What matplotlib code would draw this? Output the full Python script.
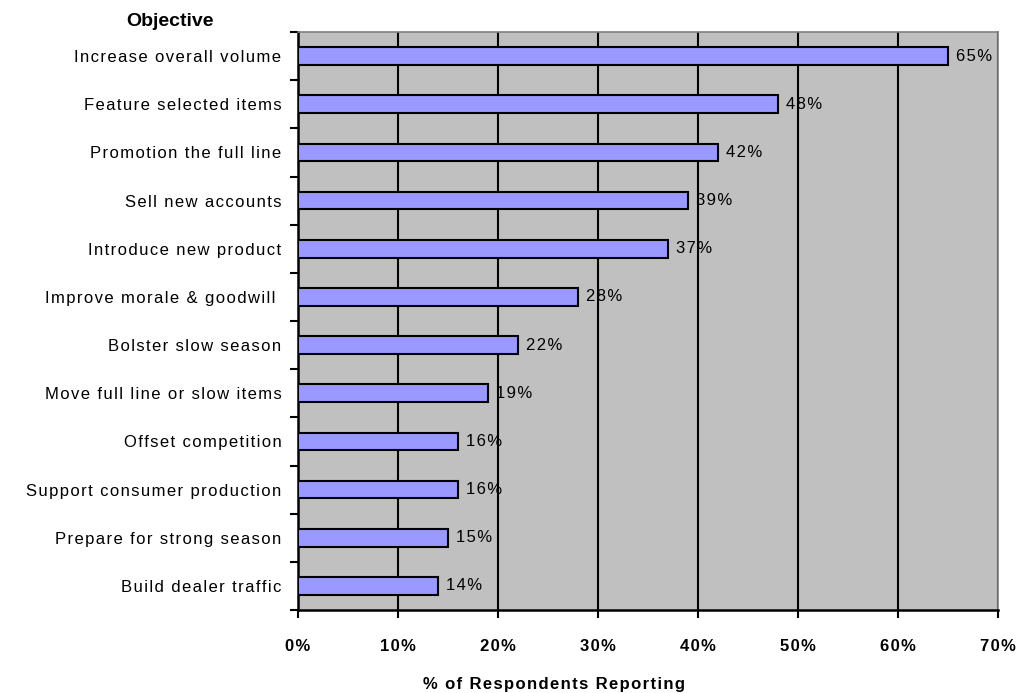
import numpy as np
import matplotlib
matplotlib.use("Agg")
from matplotlib import pyplot as plt
from matplotlib.ticker import FixedLocator

plt.rcParams['font.family'] = ['Liberation Sans', 'DejaVu Sans']

objectives = ['Increase overall volume', 'Feature selected items', 'Promotion the full line',
              'Sell new accounts', 'Introduce new product', 'Improve morale & goodwill ',
              'Bolster slow season', 'Move full line or slow items', 'Offset competition',
              'Support consumer production', 'Prepare for strong season', 'Build dealer traffic']
percents = [65, 48, 42, 39, 37, 28, 22, 19, 16, 16, 15, 14]
xticks = [0, 10, 20, 30, 40, 50, 60, 70]


def spaced(s):
    # imitate the wide letter spacing of the original with hair spaces
    return '\u200a'.join(s)


fig = plt.figure(figsize=(10.27, 6.93), dpi=100)
ax = fig.add_axes([298/1027, 1 - 610/693, 700/1027, 578/693])
ax.set_facecolor('#C0C0C0')

y = np.arange(len(objectives))
ax.barh(y, percents, height=0.37, color='#9999FF', edgecolor='black', linewidth=1.5, zorder=3)
for yi, p in zip(y, percents):
    ax.annotate(spaced('%d%%' % p), (p, yi), xytext=(6, 0), textcoords='offset points',
                va='center', ha='left', fontsize=12, zorder=4)

ax.set_xlim(0, 70)
ax.set_ylim(len(objectives) - 0.5, -0.5)
ax.set_xticks(xticks)
ax.set_xticklabels([spaced('%d%%' % t) for t in xticks], fontweight='bold', fontsize=12)
ax.tick_params(axis='x', direction='out', length=6, width=1.5, pad=15)
ax.xaxis.grid(True, color='black', linewidth=1.5, zorder=1)

ax.set_yticks(y)
ax.set_yticklabels([spaced(o) for o in objectives], fontsize=12)
ax.tick_params(axis='y', which='major', length=0, pad=12)
ax.yaxis.set_minor_locator(FixedLocator(np.arange(-0.5, len(objectives), 1.0)))
ax.tick_params(axis='y', which='minor', direction='out', length=6, width=1.5)

for side in ['left', 'bottom']:
    ax.spines[side].set_color('black')
    ax.spines[side].set_linewidth(1.8)
for side in ['top', 'right']:
    ax.spines[side].set_color('#808080')
    ax.spines[side].set_linewidth(1.2)

fig.text(554/1027, 1 - 684/693, spaced('% of Respondents Reporting'), fontweight='bold',
         fontsize=12, ha='center', va='center')
fig.text(170/1027, 1 - 21/693, 'Objective', fontweight='bold', fontsize=14, ha='center', va='center')

fig.savefig('out.png', dpi=100)
